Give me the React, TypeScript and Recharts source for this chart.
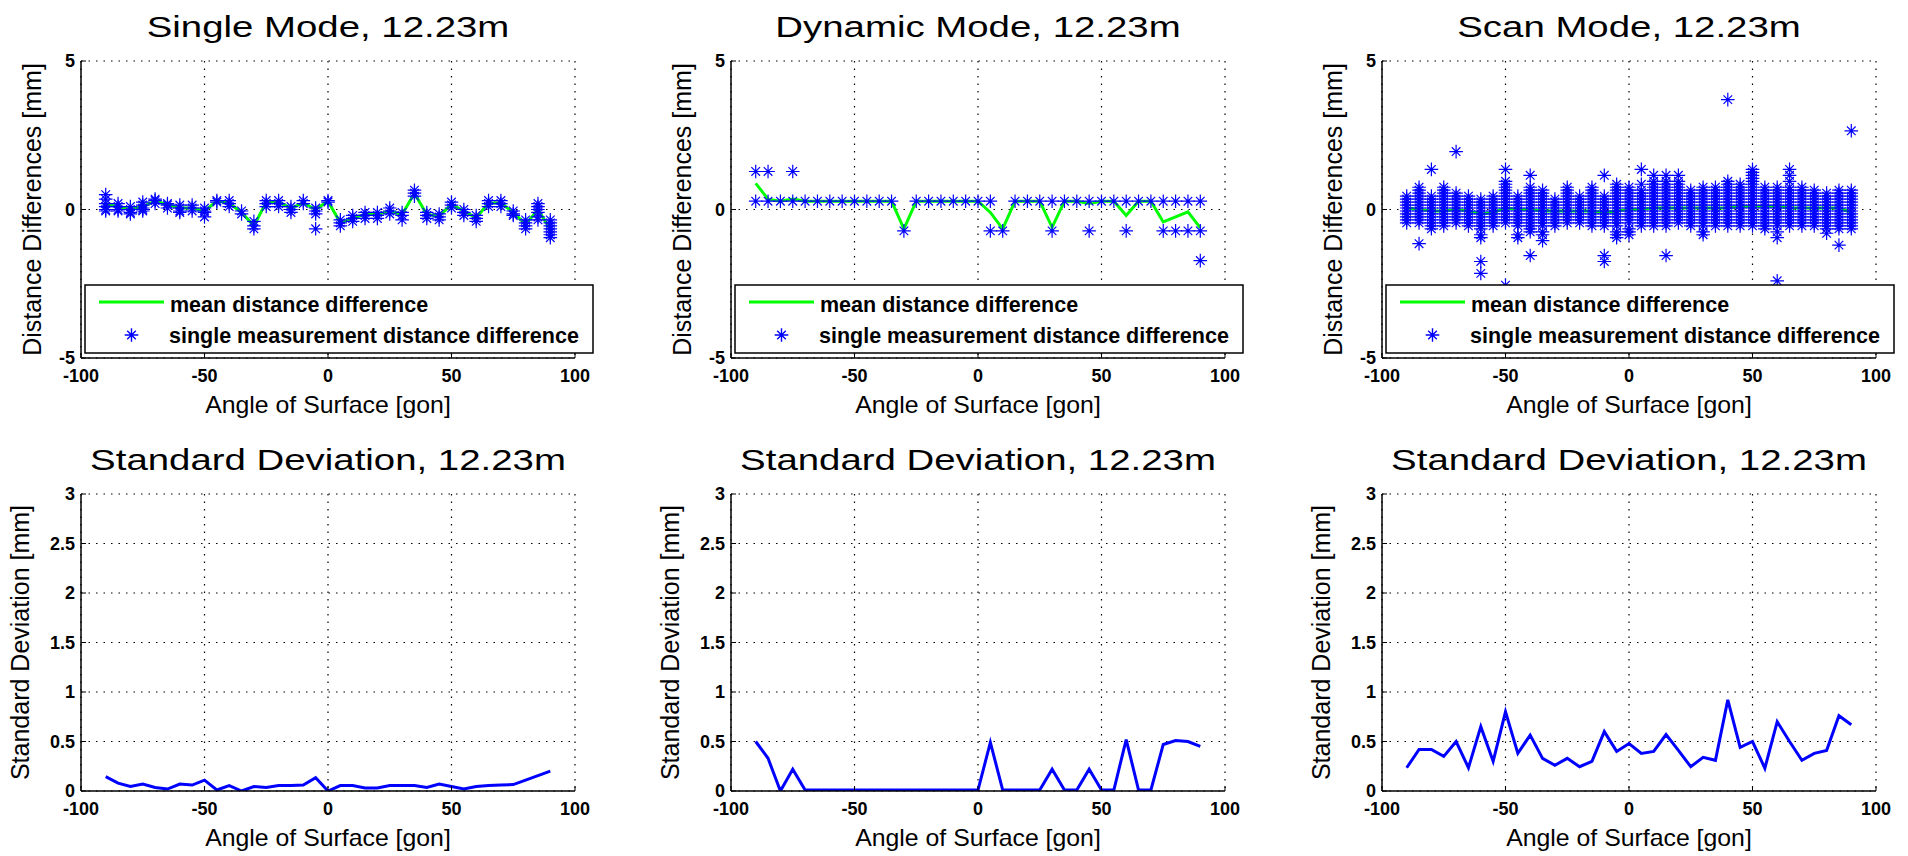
import React from 'react';
import { ComposedChart, Line, Scatter, XAxis, YAxis, CartesianGrid, Legend } from 'recharts';

const FONT = '"Liberation Sans", Arial, Helvetica, sans-serif';

// ---------- data ----------
const angles = [-90, -85, -80, -75, -70, -65, -60, -55, -50, -45, -40, -35, -30, -25, -20, -15, -10, -5, 0, 5, 10, 15, 20, 25, 30, 35, 40, 45, 50, 55, 60, 65, 70, 75, 80, 85, 90];
const xTicks = [-100, -50, 0, 50, 100];
const diffTicks = [-5, 0, 5];
const sdTicks = [0, 0.5, 1, 1.5, 2, 2.5, 3];

const topTitles = ['Single Mode, 12.23m', 'Dynamic Mode, 12.23m', 'Scan Mode, 12.23m'];
const bottomTitle = 'Standard Deviation, 12.23m';
const xLabel = 'Angle of Surface [gon]';
const diffLabel = 'Distance Differences [mm]';
const sdLabel = 'Standard Deviation [mm]';
const legendMean = 'mean distance difference';
const legendSingle = 'single measurement distance difference';

const singleMean = [0.17, 0.1, 0.0, 0.1, 0.28, 0.17, 0.05, 0.05, -0.05, 0.28, 0.22, -0.1, -0.55, 0.25, 0.25, 0.05, 0.22, 0.0, 0.28, -0.45, -0.28, -0.17, -0.17, -0.05, -0.17, 0.55, -0.17, -0.22, 0.17, -0.05, -0.28, 0.22, 0.22, -0.1, -0.5, 0.0, -0.67];
const singleMeas = [
  [0.5, 0.35, 0.2, 0.1, 0.0, -0.05], [0.2, 0.1, 0.0, -0.05], [0.1, 0.0, -0.1, -0.15], [0.25, 0.15, 0.05, 0.0, -0.05],
  [0.35, 0.3, 0.2], [0.2, 0.15, 0.05], [0.15, 0.05, -0.05, -0.1], [0.15, 0.05, -0.05], [0.05, -0.05, -0.1, -0.25],
  [0.3, 0.25], [0.3, 0.2, 0.1], [-0.05, -0.15], [-0.4, -0.55, -0.65], [0.3, 0.2, 0.1], [0.3, 0.2, 0.1], [0.1, 0.0, -0.1],
  [0.3, 0.2], [0.05, -0.05, -0.15, -0.65], [0.3, 0.25], [-0.35, -0.45, -0.55], [-0.2, -0.3, -0.4], [-0.1, -0.2, -0.3],
  [-0.1, -0.2, -0.3], [0.05, -0.05, -0.15], [-0.1, -0.2, -0.35], [0.65, 0.55, 0.45], [-0.1, -0.2, -0.3], [-0.15, -0.25, -0.35],
  [0.25, 0.15, 0.05], [0.0, -0.1, -0.2], [-0.2, -0.3, -0.4], [0.3, 0.2, 0.1], [0.3, 0.2, 0.1], [-0.05, -0.15, -0.2],
  [-0.35, -0.45, -0.55, -0.65], [0.2, 0.1, 0.0, -0.1, -0.25, -0.35], [-0.35, -0.45, -0.55, -0.65, -0.75, -0.85, -0.95],
];

const dynamicMean = [0.88, 0.35, 0.28, 0.35, 0.28, 0.28, 0.28, 0.28, 0.28, 0.28, 0.28, 0.28, -0.65, 0.28, 0.28, 0.28, 0.28, 0.28, 0.28, -0.1, -0.65, 0.28, 0.28, 0.28, -0.6, 0.28, 0.28, 0.2, 0.28, 0.28, -0.2, 0.28, 0.28, -0.42, -0.25, -0.08, -0.62];
const dynamicMeas = [
  [1.28, 0.28], [1.28, 0.28], [0.28], [1.28, 0.28], [0.28], [0.28], [0.28], [0.28], [0.28], [0.28], [0.28], [0.28],
  [-0.72], [0.28], [0.28], [0.28], [0.28], [0.28], [0.28], [0.28, -0.72], [-0.72], [0.28], [0.28], [0.28],
  [0.28, -0.72], [0.28], [0.28], [0.28, -0.72], [0.28], [0.28], [0.28, -0.72], [0.28], [0.28],
  [0.28, -0.72], [0.28, -0.72], [0.28, -0.72], [0.28, -0.72, -1.72],
];

const scanMean = [0.05, 0.0, -0.05, -0.05, 0.0, -0.05, -0.15, -0.1, 0.05, 0.0, 0.0, -0.05, -0.05, -0.05, -0.05, -0.05, -0.1, -0.05, 0.0, 0.0, 0.05, 0.05, 0.05, 0.05, 0.05, 0.05, 0.05, 0.1, 0.1, 0.1, 0.1, 0.05, 0.05, 0.05, 0.05, 0.05, -0.1];
const scanMeas = [
  [-0.45, -0.35, -0.25, -0.15, -0.05, 0.05, 0.15, 0.25, 0.35, 0.45],
  [-1.15, -0.45, -0.35, -0.25, -0.15, -0.05, 0.05, 0.15, 0.25, 0.35, 0.45, 0.55, 0.65, 0.75],
  [-0.65, -0.55, -0.45, -0.35, -0.25, -0.15, -0.05, 0.05, 0.15, 0.25, 0.35, 0.45, 1.35],
  [-0.55, -0.45, -0.35, -0.25, -0.15, -0.05, 0.05, 0.15, 0.25, 0.35, 0.45, 0.55, 0.65, 0.75],
  [-0.45, -0.35, -0.25, -0.15, -0.05, 0.05, 0.15, 0.25, 0.35, 0.45, 0.55, 1.95],
  [-0.55, -0.45, -0.35, -0.25, -0.15, -0.05, 0.05, 0.15, 0.25, 0.35, 0.45],
  [-2.15, -1.75, -0.95, -0.85, -0.65, -0.55, -0.45, -0.35, -0.25, -0.15, -0.05, 0.05, 0.15, 0.25, 0.35],
  [-0.55, -0.45, -0.35, -0.25, -0.15, -0.05, 0.05, 0.15, 0.25, 0.35, 0.45],
  [-2.55, -0.45, -0.35, -0.25, -0.15, -0.05, 0.05, 0.15, 0.25, 0.35, 0.45, 0.55, 0.65, 0.75, 0.85, 0.95, 1.35],
  [-0.95, -0.85, -0.55, -0.45, -0.35, -0.25, -0.15, -0.05, 0.05, 0.15, 0.25, 0.35, 0.45],
  [-1.55, -0.75, -0.65, -0.55, -0.45, -0.35, -0.25, -0.15, -0.05, 0.05, 0.15, 0.25, 0.35, 0.45, 0.55, 0.65, 0.75, 1.15],
  [-1.05, -0.85, -0.75, -0.55, -0.45, -0.35, -0.25, -0.15, -0.05, 0.05, 0.15, 0.25, 0.35, 0.45, 0.55, 0.65],
  [-0.55, -0.45, -0.35, -0.25, -0.15, -0.05, 0.05, 0.15, 0.25, 0.35],
  [-0.45, -0.35, -0.25, -0.15, -0.05, 0.05, 0.15, 0.25, 0.35, 0.45, 0.55, 0.65, 0.75],
  [-0.45, -0.35, -0.25, -0.15, -0.05, 0.05, 0.15, 0.25, 0.35, 0.45],
  [-0.55, -0.45, -0.35, -0.25, -0.15, -0.05, 0.05, 0.15, 0.25, 0.35, 0.45, 0.55, 0.65, 0.75],
  [-1.75, -1.55, -0.55, -0.45, -0.35, -0.25, -0.15, -0.05, 0.05, 0.15, 0.25, 0.35, 0.45, 1.15],
  [-0.95, -0.85, -0.75, -0.55, -0.45, -0.35, -0.25, -0.15, -0.05, 0.05, 0.15, 0.25, 0.35, 0.45, 0.55, 0.65, 0.75, 0.85],
  [-0.85, -0.75, -0.65, -0.45, -0.35, -0.25, -0.15, -0.05, 0.05, 0.15, 0.25, 0.35, 0.45, 0.55, 0.65, 0.75],
  [-0.55, -0.45, -0.35, -0.25, -0.15, -0.05, 0.05, 0.15, 0.25, 0.35, 0.45, 0.55, 0.65, 0.85, 1.35],
  [-0.55, -0.45, -0.35, -0.25, -0.15, -0.05, 0.05, 0.15, 0.25, 0.35, 0.45, 0.55, 0.65, 0.75, 0.85, 0.95, 1.15],
  [-1.55, -0.55, -0.45, -0.35, -0.25, -0.15, -0.05, 0.05, 0.15, 0.25, 0.35, 0.45, 0.55, 0.65, 0.75, 0.85, 0.95, 1.15],
  [-0.45, -0.35, -0.25, -0.15, -0.05, 0.05, 0.15, 0.25, 0.35, 0.45, 0.55, 0.65, 0.75, 0.85, 0.95, 1.15],
  [-0.55, -0.45, -0.35, -0.25, -0.15, -0.05, 0.05, 0.15, 0.25, 0.35, 0.45, 0.55, 0.65],
  [-0.85, -0.75, -0.55, -0.45, -0.35, -0.25, -0.15, -0.05, 0.05, 0.15, 0.25, 0.35, 0.45, 0.55, 0.65, 0.75],
  [-0.55, -0.45, -0.35, -0.25, -0.15, -0.05, 0.05, 0.15, 0.25, 0.35, 0.45, 0.55, 0.65, 0.75],
  [-0.55, -0.45, -0.35, -0.25, -0.15, -0.05, 0.05, 0.15, 0.25, 0.35, 0.45, 0.55, 0.65, 0.75, 0.85, 0.95, 3.7],
  [-0.55, -0.45, -0.35, -0.25, -0.15, -0.05, 0.05, 0.15, 0.25, 0.35, 0.45, 0.55, 0.65, 0.75, 0.85],
  [-0.55, -0.45, -0.35, -0.25, -0.15, -0.05, 0.05, 0.15, 0.25, 0.35, 0.45, 0.55, 0.65, 0.75, 0.85, 0.95, 1.05, 1.15, 1.25, 1.35],
  [-0.65, -0.55, -0.45, -0.35, -0.25, -0.15, -0.05, 0.05, 0.15, 0.25, 0.35, 0.45, 0.55, 0.65, 0.75],
  [-2.4, -0.95, -0.75, -0.55, -0.45, -0.35, -0.25, -0.15, -0.05, 0.05, 0.15, 0.25, 0.35, 0.45, 0.55, 0.65, 0.75],
  [-0.55, -0.45, -0.35, -0.25, -0.15, -0.05, 0.05, 0.15, 0.25, 0.35, 0.45, 0.55, 0.65, 0.75, 0.95, 1.15, 1.35],
  [-0.55, -0.45, -0.35, -0.25, -0.15, -0.05, 0.05, 0.15, 0.25, 0.35, 0.45, 0.55, 0.65, 0.75],
  [-0.55, -0.45, -0.35, -0.25, -0.15, -0.05, 0.05, 0.15, 0.25, 0.35, 0.45, 0.55, 0.65],
  [-0.8, -0.65, -0.55, -0.45, -0.35, -0.25, -0.15, -0.05, 0.05, 0.15, 0.25, 0.35, 0.45, 0.55],
  [-1.2, -0.65, -0.55, -0.45, -0.35, -0.25, -0.15, -0.05, 0.05, 0.15, 0.25, 0.35, 0.45, 0.55, 0.65],
  [-0.65, -0.55, -0.45, -0.35, -0.25, -0.15, -0.05, 0.05, 0.15, 0.25, 0.35, 0.45, 0.55, 0.65, 2.65],
];

const singleSd = [0.145, 0.08, 0.045, 0.07, 0.035, 0.02, 0.07, 0.06, 0.11, 0.01, 0.055, 0.0, 0.045, 0.035, 0.055, 0.055, 0.06, 0.135, 0.0, 0.055, 0.055, 0.03, 0.03, 0.055, 0.055, 0.055, 0.035, 0.07, 0.045, 0.02, 0.045, 0.055, 0.06, 0.065, 0.11, 0.155, 0.2];
const dynamicSd = [0.5, 0.33, 0.0, 0.22, 0.01, 0.01, 0.01, 0.01, 0.01, 0.01, 0.01, 0.01, 0.01, 0.01, 0.01, 0.01, 0.01, 0.01, 0.01, 0.49, 0.01, 0.01, 0.01, 0.01, 0.22, 0.01, 0.01, 0.22, 0.01, 0.01, 0.52, 0.01, 0.01, 0.47, 0.51, 0.5, 0.45];
const scanSd = [0.235, 0.42, 0.42, 0.35, 0.5, 0.235, 0.65, 0.3, 0.8, 0.38, 0.565, 0.33, 0.26, 0.33, 0.245, 0.3, 0.6, 0.4, 0.48, 0.38, 0.4, 0.57, 0.41, 0.245, 0.34, 0.31, 0.92, 0.44, 0.5, 0.23, 0.7, 0.5, 0.31, 0.38, 0.41, 0.76, 0.67];

// ---------- layout ----------
const COL_LEFT = [81, 731, 1382];
const PLOT_W = 494;
const M_LEFT = 21;
const Y_AXIS_W = 60;
const PLOT_X = M_LEFT + Y_AXIS_W; // 81 inside each chart
const M_RIGHT = 30;
const CHART_W = PLOT_X + PLOT_W + M_RIGHT;
const X_AXIS_H = 40;
const TOP_ROW = { plotY: 61, h: 297, bottom: 30, wrapTop: 0, titleBase: 37, yLabelOff: 49 };
const BOT_ROW = { plotY: 61, h: 297, bottom: 25, wrapTop: 433, titleBase: 37, yLabelOff: 61 };
const TITLE_SIZE = 30;
const TITLE_SCALE = 1.28;

const toLine = (vals: number[]) => angles.map((a, i) => ({ x: a, y: vals[i] }));
const toPoints = (meas: number[][]) => meas.flatMap((vals, i) => vals.map((v) => ({ x: angles[i], y: v })));

const STAR_A = 6.8;
const STAR_D = 4.3;
const STAR_W = 1.2;
const starPath = (cx: number, cy: number) =>
  `M${cx - STAR_A},${cy}H${cx + STAR_A}M${cx},${cy - STAR_A}V${cy + STAR_A}M${cx - STAR_D},${cy - STAR_D}L${cx + STAR_D},${cy + STAR_D}M${cx - STAR_D},${cy + STAR_D}L${cx + STAR_D},${cy - STAR_D}`;

const Star = (props: any) => {
  const { cx, cy } = props;
  if (cx == null || cy == null || isNaN(cx) || isNaN(cy)) return <g />;
  return <path d={starPath(cx, cy)} stroke="#0000ff" strokeWidth={STAR_W} fill="none" />;
};

const tickStyle = { fontSize: 18, fontWeight: 'bold' as const, fill: '#000', fontFamily: FONT };

const Title = ({ text, baseline }: { text: string; baseline: number }) => {
  const cx = PLOT_X + PLOT_W / 2;
  return (
    <svg width={CHART_W} height={baseline + 10} style={{ position: 'absolute', left: 0, top: 0, pointerEvents: 'none', overflow: 'visible' }}>
      <text transform={`translate(${cx},${baseline}) scale(${TITLE_SCALE},1)`} textAnchor="middle" fontSize={TITLE_SIZE} fontFamily={FONT} fill="#000">
        {text}
      </text>
    </svg>
  );
};

const LEG_W = 508;
const LEG_H = 68;
const LegendBox = () => (
  <svg width={LEG_W + 2} height={LEG_H + 2} style={{ display: 'block' }}>
    <rect x={1} y={1} width={LEG_W} height={LEG_H} fill="#fff" stroke="#000" strokeWidth={1.5} />
    <line x1={15} x2={80} y1={18} y2={18} stroke="#00ff00" strokeWidth={3} />
    <text x={86} y={28} fontSize={21.5} fontWeight="bold" fontFamily={FONT} fill="#000">{legendMean}</text>
    <path d={starPath(47.5, 51)} stroke="#0000ff" strokeWidth={1.4} fill="none" />
    <text x={85} y={59} fontSize={21.5} fontWeight="bold" fontFamily={FONT} fill="#000">{legendSingle}</text>
  </svg>
);

const makeXLabel = (plotBottom: number) => () => (
  <text transform={`translate(${PLOT_X + PLOT_W / 2},${plotBottom + 55}) scale(1.08,1)`} textAnchor="middle" fontSize={23} fontFamily={FONT} fill="#000">
    {xLabel}
  </text>
);

const makeYLabel = (text: string, cx: number, cy: number) => () => (
  <text transform={`translate(${cx},${cy}) rotate(-90)`} textAnchor="middle" dy="0.36em" fontSize={25} fontFamily={FONT} fill="#000">
    {text}
  </text>
);

const axisLineStyle = { stroke: '#000', strokeWidth: 1.5 };

const TopPanel = ({ col, mean, meas }: { col: number; mean: number[]; meas: number[][] }) => {
  const row = TOP_ROW;
  const chartH = row.plotY + row.h + X_AXIS_H + row.bottom;
  const plotBottom = row.plotY + row.h;
  return (
    <div style={{ position: 'absolute', left: COL_LEFT[col] - PLOT_X, top: row.wrapTop, width: CHART_W, height: chartH }}>
      <Title text={topTitles[col]} baseline={row.titleBase} />
      <ComposedChart width={CHART_W} height={chartH} margin={{ top: row.plotY, right: M_RIGHT, bottom: row.bottom, left: M_LEFT }}>
        <CartesianGrid stroke="#000" strokeDasharray="1.5 6" strokeWidth={1.2} />
        <XAxis type="number" dataKey="x" domain={[-100, 100]} ticks={xTicks} interval={0} height={X_AXIS_H}
          tick={tickStyle} tickSize={-5} tickMargin={16} axisLine={axisLineStyle} tickLine={{ stroke: '#000' }}
          allowDataOverflow label={makeXLabel(plotBottom)} />
        <YAxis type="number" dataKey="y" domain={[-5, 5]} ticks={diffTicks} interval={0} width={Y_AXIS_W}
          tick={tickStyle} tickSize={-5} tickMargin={11} axisLine={axisLineStyle} tickLine={{ stroke: '#000' }}
          allowDataOverflow label={makeYLabel(diffLabel, PLOT_X - row.yLabelOff, row.plotY + row.h / 2)} />
        <Line data={toLine(mean)} dataKey="y" stroke="#00ff00" strokeWidth={3} dot={false} isAnimationActive={false} />
        <Scatter data={toPoints(meas)} dataKey="y" shape={Star} isAnimationActive={false} />
        <Legend layout="horizontal" verticalAlign="middle" align="center" content={() => <LegendBox />}
          wrapperStyle={{ position: 'absolute', left: PLOT_X + 3, top: 284, width: LEG_W + 2, height: LEG_H + 2 }} />
      </ComposedChart>
    </div>
  );
};

const BottomPanel = ({ col, sd }: { col: number; sd: number[] }) => {
  const row = BOT_ROW;
  const chartH = row.plotY + row.h + X_AXIS_H + row.bottom;
  const plotBottom = row.plotY + row.h;
  return (
    <div style={{ position: 'absolute', left: COL_LEFT[col] - PLOT_X, top: row.wrapTop, width: CHART_W, height: chartH }}>
      <Title text={bottomTitle} baseline={row.titleBase} />
      <ComposedChart width={CHART_W} height={chartH} margin={{ top: row.plotY, right: M_RIGHT, bottom: row.bottom, left: M_LEFT }}>
        <CartesianGrid stroke="#000" strokeDasharray="1.5 6" strokeWidth={1.2} />
        <XAxis type="number" dataKey="x" domain={[-100, 100]} ticks={xTicks} interval={0} height={X_AXIS_H}
          tick={tickStyle} tickSize={-5} tickMargin={16} axisLine={axisLineStyle} tickLine={{ stroke: '#000' }}
          allowDataOverflow label={makeXLabel(plotBottom)} />
        <YAxis type="number" dataKey="y" domain={[0, 3]} ticks={sdTicks} interval={0} width={Y_AXIS_W}
          tick={tickStyle} tickSize={-5} tickMargin={11} axisLine={axisLineStyle} tickLine={{ stroke: '#000' }}
          allowDataOverflow label={makeYLabel(sdLabel, PLOT_X - row.yLabelOff, row.plotY + row.h / 2)} />
        <Line data={toLine(sd)} dataKey="y" stroke="#0000ff" strokeWidth={3} dot={false} isAnimationActive={false} />
      </ComposedChart>
    </div>
  );
};

export default function App() {
  return (
    <div style={{ position: 'absolute', left: 0, top: 0, width: 1908, height: 856, background: '#fff', overflow: 'hidden', fontFamily: FONT }}>
      <TopPanel col={0} mean={singleMean} meas={singleMeas} />
      <TopPanel col={1} mean={dynamicMean} meas={dynamicMeas} />
      <TopPanel col={2} mean={scanMean} meas={scanMeas} />
      <BottomPanel col={0} sd={singleSd} />
      <BottomPanel col={1} sd={dynamicSd} />
      <BottomPanel col={2} sd={scanSd} />
    </div>
  );
}
